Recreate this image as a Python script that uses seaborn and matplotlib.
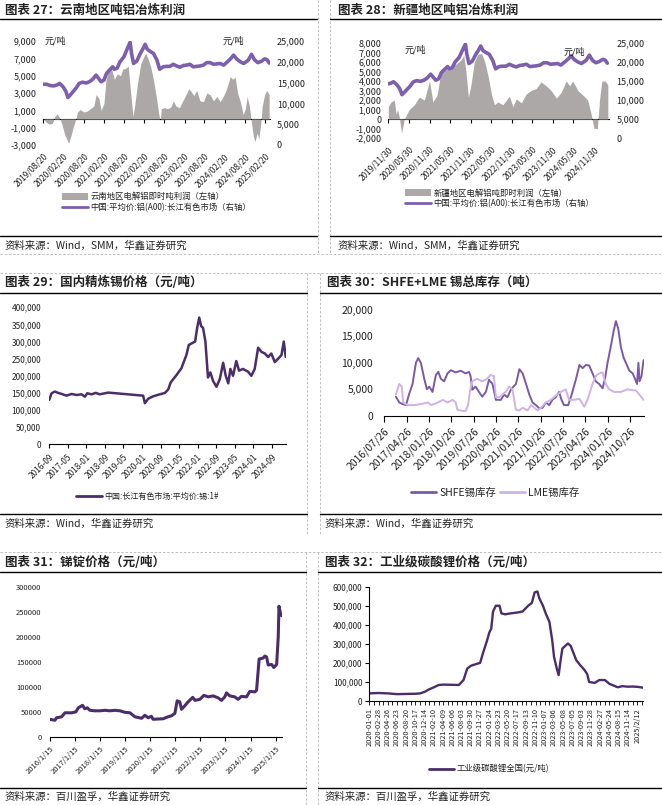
import numpy as np
import pandas as pd
import matplotlib
matplotlib.use("Agg")
import matplotlib.pyplot as plt
import matplotlib.dates as mdates
import matplotlib.ticker as mticker
from matplotlib.lines import Line2D
from matplotlib.patches import Patch
import seaborn as sns

# ------------------------------------------------------------------ data
# 中国:平均价:铝(A00):长江有色市场 (panels 27 / 28, right axis)
al_price_dates = ["2019-08-20", "2019-09-20", "2019-10-20", "2019-11-20", "2019-12-20", "2020-01-15",
                  "2020-02-15", "2020-03-10", "2020-03-30", "2020-04-20", "2020-05-15", "2020-06-10",
                  "2020-07-10", "2020-08-10", "2020-09-10", "2020-10-10", "2020-11-10", "2020-12-10",
                  "2021-01-05", "2021-01-25", "2021-02-20", "2021-03-15", "2021-04-10", "2021-05-10",
                  "2021-05-25", "2021-06-20", "2021-07-15", "2021-08-20", "2021-09-20", "2021-10-15",
                  "2021-10-28", "2021-11-15", "2021-12-15", "2022-01-15", "2022-02-10", "2022-02-28",
                  "2022-03-20", "2022-04-10", "2022-05-15", "2022-06-15", "2022-07-10", "2022-08-10",
                  "2022-09-10", "2022-10-10", "2022-11-10", "2022-12-10", "2023-01-10", "2023-02-10",
                  "2023-03-10", "2023-04-10", "2023-05-10", "2023-06-10", "2023-07-10", "2023-08-10",
                  "2023-09-10", "2023-10-10", "2023-11-10", "2023-12-10", "2024-01-10", "2024-02-10",
                  "2024-03-15", "2024-04-15", "2024-05-10", "2024-06-10", "2024-07-10", "2024-08-10",
                  "2024-09-20", "2024-10-20", "2024-11-15", "2024-12-15", "2025-01-15", "2025-02-15",
                  "2025-03-10", "2025-03-28"]
al_price_values = [14600, 14600, 14300, 14200, 14400, 14800,
                   14000, 13000, 11400, 12000, 12800, 13600,
                   14800, 15100, 14900, 15200, 15800, 16800,
                   15900, 15200, 15600, 17200, 18000, 18800,
                   18200, 18500, 20000, 21200, 23200, 24700,
                   22000, 19600, 20200, 22000, 23200, 24200,
                   23000, 22600, 22000, 20400, 18200, 18800,
                   18900, 18900, 19400, 19000, 18700, 19100,
                   19200, 19400, 18800, 18900, 19000, 19200,
                   19800, 19800, 19400, 19500, 19600, 19200,
                   20000, 20800, 21600, 20600, 20000, 19600,
                   20400, 21800, 20500, 19800, 20100, 20700,
                   20500, 19700]

# 云南地区电解铝即时吨利润 (panel 27, left axis)
yn_profit_dates = ["2019-08-20", "2019-09-10", "2019-10-10", "2019-11-10", "2019-12-05", "2019-12-25",
                   "2020-01-15", "2020-02-05", "2020-03-01", "2020-04-05", "2020-04-25", "2020-05-20",
                   "2020-06-10", "2020-06-25", "2020-07-20", "2020-08-20", "2020-09-20", "2020-10-20",
                   "2020-11-20", "2020-12-10", "2021-01-05", "2021-01-25", "2021-02-20", "2021-03-10",
                   "2021-04-05", "2021-04-25", "2021-05-25", "2021-06-20", "2021-07-20", "2021-08-10",
                   "2021-09-01", "2021-09-28", "2021-10-20", "2021-11-10", "2021-11-25", "2021-12-20",
                   "2022-01-20", "2022-02-20", "2022-03-05", "2022-03-25", "2022-04-20", "2022-05-15",
                   "2022-06-10", "2022-07-01", "2022-07-15", "2022-07-25", "2022-08-20", "2022-09-20",
                   "2022-10-20", "2022-11-10", "2022-12-05", "2023-01-05", "2023-02-01", "2023-03-01",
                   "2023-04-01", "2023-04-20", "2023-05-15", "2023-06-10", "2023-07-10", "2023-08-10",
                   "2023-09-10", "2023-10-10", "2023-11-10", "2023-12-10", "2024-01-10", "2024-02-10",
                   "2024-03-05", "2024-03-25", "2024-04-10", "2024-05-01", "2024-05-25", "2024-06-15",
                   "2024-07-10", "2024-08-05", "2024-08-25", "2024-09-10", "2024-09-30", "2024-10-20",
                   "2024-11-05", "2024-11-20", "2024-12-10", "2024-12-25", "2025-01-10", "2025-01-25",
                   "2025-02-15", "2025-03-05", "2025-03-28"]
yn_profit_values = [100, -300, -600, -500, 300, 600,
                    100, -600, -1800, -2800, -2000, -800,
                    0, 800, 1100, 800, 900, 1200,
                    1500, 2800, 2400, 1000, 1800, 4500,
                    5800, 6000, 4600, 5200, 5000, 5800,
                    5800, 6100, 3000, 300, 1500, 4000,
                    6400, 7300, 7600, 7000, 6000, 4500,
                    2500, 600, -200, 1200, 1300, 1200,
                    1400, 2100, 1500, 1300, 2000, 2700,
                    3500, 3200, 2700, 3300, 2100, 2000,
                    3000, 2800, 2100, 2600, 2000, 2700,
                    3400, 4200, 4900, 4600, 4800, 3000,
                    2000, 500, 1200, 2600, 1500, -500,
                    -2000, -2600, -1600, -2300, -600, 1500,
                    2800, 3300, 2800]

# 新疆地区电解铝吨即时利润 (panel 28, left axis)
xj_profit_dates = ["2019-11-30", "2019-12-25", "2020-01-22", "2020-02-08", "2020-02-20", "2020-03-05",
                   "2020-03-27", "2020-04-20", "2020-06-03", "2020-07-18", "2020-09-01", "2020-10-15",
                   "2020-11-30", "2020-12-30", "2021-02-05", "2021-03-12", "2021-04-25", "2021-06-10",
                   "2021-07-25", "2021-09-05", "2021-09-30", "2021-10-20", "2021-11-10", "2021-12-02",
                   "2022-01-02", "2022-02-02", "2022-03-08", "2022-04-05", "2022-05-05", "2022-06-05",
                   "2022-06-30", "2022-07-30", "2022-09-12", "2022-11-10", "2022-12-10", "2023-01-10",
                   "2023-02-25", "2023-04-05", "2023-05-20", "2023-07-05", "2023-08-18", "2023-10-02",
                   "2023-11-15", "2024-01-01", "2024-02-12", "2024-03-28", "2024-04-28", "2024-05-25",
                   "2024-07-10", "2024-08-25", "2024-10-05", "2024-11-05", "2024-11-30", "2024-12-30",
                   "2025-01-18", "2025-02-08", "2025-03-10", "2025-04-02"]
xj_profit_values = [1300, 1800, 2000, 500, 1000, 300,
                    -1500, 0, 1000, 1500, 2300, 2000,
                    4000, 1800, 2500, 5000, 5200, 5500,
                    5800, 6200, 6700, 5000, 2300, 3500,
                    6000, 6800, 6900, 6000, 4500, 2500,
                    1500, 1800, 1500, 2400, 1300, 2100,
                    1700, 2600, 3000, 3200, 3900, 3500,
                    3000, 2200, 2800, 4000, 3500, 4000,
                    3000, 2500, 2000, 500, -1000, -1000,
                    2000, 4000, 4000, 3600]

# 中国:长江有色市场:平均价:锡:1# (panel 29)
tin_dates = ["2016-09-01", "2016-10-01", "2016-11-13", "2016-12-28", "2017-02-10", "2017-04-15",
             "2017-06-20", "2017-08-25", "2017-10-28", "2017-12-12", "2018-01-12", "2018-03-08",
             "2018-05-04", "2018-06-25", "2018-09-01", "2018-10-13", "2020-01-16", "2020-02-07",
             "2020-03-22", "2020-05-25", "2020-08-22", "2020-10-28", "2020-12-10", "2021-01-10",
             "2021-02-13", "2021-03-28", "2021-06-01", "2021-08-06", "2021-09-06", "2021-10-25",
             "2021-11-28", "2021-12-25", "2022-01-21", "2022-02-15", "2022-03-12", "2022-04-12",
             "2022-05-16", "2022-06-16", "2022-07-22", "2022-09-04", "2022-10-18", "2022-12-01",
             "2023-01-04", "2023-02-06", "2023-03-06", "2023-04-10", "2023-05-22", "2023-06-28",
             "2023-08-18", "2023-10-24", "2023-12-06", "2024-01-19", "2024-03-04", "2024-04-16",
             "2024-06-01", "2024-07-13", "2024-08-25", "2024-10-09", "2024-11-22", "2025-01-04",
             "2025-02-04", "2025-03-01"]
tin_values = [130000, 149000, 154000, 150000, 147000, 142000,
              147000, 144000, 146000, 139000, 149000, 146000,
              150000, 146000, 149000, 151000, 142000, 120000,
              133000, 140000, 146000, 150000, 160000, 180000,
              190000, 202000, 222000, 261000, 290000, 296000,
              300000, 340000, 370000, 345000, 340000, 300000,
              195000, 210000, 185000, 168000, 190000, 238000,
              200000, 178000, 220000, 200000, 243000, 215000,
              220000, 212000, 200000, 220000, 282000, 270000,
              265000, 255000, 265000, 240000, 250000, 260000,
              300000, 255000]

# SHFE / LME 锡库存 (panel 30)
shfe_dates = ["2016-12-15", "2017-01-26", "2017-03-08", "2017-04-18", "2017-05-29", "2017-07-08",
              "2017-08-18", "2017-09-15", "2017-10-18", "2017-11-28", "2017-12-31", "2018-01-29",
              "2018-03-10", "2018-04-20", "2018-05-20", "2018-06-20", "2018-07-30", "2018-09-10",
              "2018-10-20", "2018-12-20", "2019-02-20", "2019-04-20", "2019-06-01", "2019-06-20",
              "2019-07-10", "2019-08-20", "2019-10-01", "2019-11-10", "2019-12-25", "2020-02-01",
              "2020-03-15", "2020-04-26", "2020-06-26", "2020-08-05", "2020-09-15", "2020-10-28",
              "2020-12-28", "2021-02-08", "2021-03-20", "2021-05-01", "2021-06-10", "2021-07-20",
              "2021-08-30", "2021-10-10", "2021-11-20", "2021-12-30", "2022-02-10", "2022-03-20",
              "2022-05-01", "2022-06-10", "2022-07-10", "2022-08-10", "2022-09-30", "2022-11-10",
              "2023-01-05", "2023-02-15", "2023-03-26", "2023-05-05", "2023-06-15", "2023-07-26",
              "2023-09-05", "2023-10-15", "2023-11-26", "2023-12-26", "2024-01-26", "2024-03-05",
              "2024-04-10", "2024-05-08", "2024-06-05", "2024-07-08", "2024-08-10", "2024-09-08",
              "2024-10-20", "2024-11-30", "2024-12-28", "2025-01-22", "2025-02-08", "2025-02-22",
              "2025-03-18", "2025-04-12"]
shfe_values = [3600, 2500, 2200, 2000, 4200, 6000,
               10000, 10900, 10000, 7000, 5000, 5500,
               4500, 7700, 8300, 7000, 6500, 8000,
               8600, 8200, 8500, 8000, 8300, 7500,
               4900, 5500, 4500, 3600, 4500, 6800,
               6000, 3000, 3000, 4000, 3500, 5000,
               6000, 8800, 8000, 6000, 4000, 2500,
               2000, 1400, 1500, 2500, 2000, 3000,
               3500, 4500, 3000, 2000, 2000, 3900,
               7000, 9600, 9000, 9600, 9500, 8000,
               6500, 6000, 5200, 7000, 10000, 13000,
               16000, 17900, 16500, 13000, 11000, 10000,
               8500, 8000, 7000, 6000, 10000, 6500,
               7500, 10500]
lme_dates = ["2016-12-15", "2017-01-26", "2017-02-25", "2017-03-15", "2017-05-05", "2017-07-26",
             "2017-10-18", "2018-01-10", "2018-02-20", "2018-05-15", "2018-07-15", "2018-09-10",
             "2018-11-10", "2018-12-20", "2019-01-10", "2019-03-15", "2019-04-20", "2019-05-20",
             "2019-06-15", "2019-07-10", "2019-09-10", "2019-11-10", "2020-01-10", "2020-02-20",
             "2020-04-01", "2020-04-26", "2020-06-05", "2020-07-15", "2020-08-25", "2020-10-05",
             "2020-11-15", "2020-12-28", "2021-02-08", "2021-03-20", "2021-05-20", "2021-07-01",
             "2021-08-10", "2021-09-20", "2021-10-30", "2021-12-30", "2022-03-01", "2022-05-01",
             "2022-07-01", "2022-09-01", "2022-10-10", "2022-12-10", "2023-02-15", "2023-04-15",
             "2023-05-25", "2023-07-26", "2023-09-05", "2023-10-15", "2023-11-26", "2024-01-05",
             "2024-02-15", "2024-04-15", "2024-07-08", "2024-09-28", "2024-11-30", "2025-01-08",
             "2025-02-20", "2025-04-12"]
lme_values = [4000, 6000, 5500, 2500, 2000, 2000,
              2200, 2500, 2000, 2500, 3000, 2500,
              3000, 2500, 1100, 900, 900, 2000,
              4900, 6500, 7000, 6500, 7000, 7700,
              7500, 3500, 3500, 4000, 4500, 5500,
              5000, 1100, 1000, 1500, 1000, 2000,
              1500, 1000, 1500, 2500, 3000, 3800,
              4500, 5000, 3000, 3000, 3200, 1700,
              3000, 6000, 7500, 8000, 8200, 6000,
              5000, 4500, 4500, 5000, 4800, 4800,
              4000, 3000]

# 锑锭价格 (panel 31)
sb_dates = ["2016-01-15", "2016-03-27", "2016-04-20", "2016-07-03", "2016-08-20", "2016-11-27",
            "2017-01-27", "2017-03-03", "2017-05-03", "2017-06-05", "2017-07-12", "2017-08-18",
            "2017-10-30", "2018-01-12", "2018-03-25", "2018-06-05", "2018-08-18", "2018-10-30",
            "2019-01-10", "2019-03-25", "2019-06-05", "2019-09-10", "2019-10-30", "2019-12-15",
            "2020-02-01", "2020-02-25", "2020-07-20", "2020-09-30", "2020-11-20", "2021-01-08",
            "2021-02-10", "2021-03-20", "2021-04-15", "2021-06-01", "2021-07-20", "2021-09-25",
            "2021-10-28", "2022-01-08", "2022-03-05", "2022-05-10", "2022-07-18", "2022-09-30",
            "2022-11-18", "2023-01-05", "2023-01-30", "2023-03-18", "2023-05-30", "2023-07-18",
            "2023-09-05", "2023-11-18", "2024-01-05", "2024-03-18", "2024-04-12", "2024-05-20",
            "2024-07-18", "2024-08-12", "2024-09-05", "2024-09-30", "2024-11-18", "2024-12-20",
            "2025-01-30", "2025-02-22", "2025-03-05", "2025-03-30", "2025-04-15"]
sb_values = [34800, 33000, 38000, 40000, 48000, 48000,
             50000, 58000, 63000, 56000, 58000, 53000,
             52000, 52000, 53000, 52000, 53000, 52000,
             49000, 48000, 40000, 37000, 43000, 38000,
             41000, 35000, 36000, 40000, 42000, 47000,
             72000, 70000, 55000, 62000, 70000, 79000,
             73000, 75000, 83000, 80000, 82000, 78000,
             73000, 80000, 88000, 82000, 80000, 75000,
             81000, 80000, 91000, 90000, 93000, 156000,
             158000, 162000, 160000, 144000, 145000, 139000,
             145000, 200000, 262000, 245000, 243000]

# 工业级碳酸锂全国 (panel 32, category axis: position counted in tick-label steps)
li_idx = [0, 1, 2, 2.5, 3, 4, 5, 5.5, 6, 6.5, 7, 7.5, 8, 9, 9.7, 10.2, 10.6, 11, 11.7, 12,
          12.3, 12.7, 13, 13.2, 13.4, 13.7, 14.1, 14.3, 14.7, 15.3, 16.1, 16.6, 17.2, 17.6, 17.9,
          18.2, 18.4, 18.8, 19.1, 19.5, 19.8, 20, 20.3, 20.5, 20.7, 20.9, 21.5, 21.8, 22.4, 22.8,
          23.3, 23.6, 23.8, 24.4, 24.9, 25.5, 26, 26.5, 26.9, 27.4, 28, 28.5, 29.1, 29.6]
li_values = [40000, 42000, 40000, 38000, 36000, 37000, 38000, 40000, 48000, 62000, 72000, 84000,
             86000, 85000, 84000, 110000, 170000, 185000, 196000, 200000,
             250000, 310000, 360000, 380000, 470000, 500000, 500000, 460000, 455000, 460000,
             465000, 470000, 500000, 515000, 570000,
             575000, 540000, 500000, 460000, 415000, 320000, 232000, 170000, 136000, 210000,
             275000, 302000, 290000, 215000, 190000,
             163000, 140000, 100000, 95000, 110000, 110000, 90000, 80000, 72000, 78000,
             75000, 76000, 74000, 70000]

# tick labels
p27_ticks = ["2019/08/20", "2020/02/20", "2020/08/20", "2021/02/20", "2021/08/20", "2022/02/20",
             "2022/08/20", "2023/02/20", "2023/08/20", "2024/02/20", "2024/08/20", "2025/02/20"]
p28_ticks = ["2019/11/30", "2020/05/30", "2020/11/30", "2021/05/30", "2021/11/30", "2022/05/30",
             "2022/11/30", "2023/05/30", "2023/11/30", "2024/05/30", "2024/11/30"]
p29_ticks = ["2016-09", "2017-05", "2018-01", "2018-09", "2019-05", "2020-01", "2020-09",
             "2021-05", "2022-01", "2022-09", "2023-05", "2024-01", "2024-09"]
p30_ticks = ["2016/07/26", "2017/04/26", "2018/01/26", "2018/10/26", "2019/07/26", "2020/04/26",
             "2021/01/26", "2021/10/26", "2022/07/26", "2023/04/26", "2024/01/26", "2024/10/26"]
p31_ticks = ["2016/1/15", "2017/1/15", "2018/1/15", "2019/1/15", "2020/1/15", "2021/1/15",
             "2022/1/15", "2023/1/15", "2024/1/15", "2025/1/15"]
p32_ticks = ["2020-01-01", "2020-02-28", "2020-04-26", "2020-06-23", "2020-08-20", "2020-10-17",
             "2020-12-14", "2021-02-10", "2021-04-09", "2021-06-06", "2021-08-03", "2021-09-30",
             "2021-11-27", "2022-01-24", "2022-03-23", "2022-05-20", "2022-07-17", "2022-09-13",
             "2022-11-10", "2023-01-07", "2023-03-06", "2023-05-08", "2023-07-05", "2023-09-03",
             "2023-11-28", "2024-02-27", "2024-05-24", "2024-08-15", "2024-11-14", "2025/2/12"]

# ------------------------------------------------------------------ style
sns.set_theme(style="white")
plt.rcParams["font.family"] = ["Noto Sans CJK SC", "DejaVu Sans"]
plt.rcParams["axes.unicode_minus"] = False

W, H = 662, 805
fig = plt.figure(figsize=(W / 100, H / 100), dpi=100)
fig.patch.set_facecolor("white")

PURPLE = "#7D5FAD"
DARKP = "#4A2D6A"
GREY_FILL = "#ACA8A8"
LAV = "#CFB2E8"
TXT = "#222222"


def add_ax(x0, y0, x1, y1):
    return fig.add_axes([x0 / W, 1 - y1 / H, (x1 - x0) / W, (y1 - y0) / H])


def fline(x0, y0, x1, y1, color="black", lw=1.0, ls="-"):
    fig.add_artist(Line2D([x0 / W, x1 / W], [1 - y0 / H, 1 - y1 / H], color=color, lw=lw,
                          ls=ls, transform=fig.transFigure))


def ftext(x, y, s, size, weight="normal", ha="left", color=TXT):
    fig.text(x / W, 1 - y / H, s, fontsize=size, fontweight=weight, ha=ha, va="center", color=color)


def dnum(lst, fmt=None):
    return mdates.date2num(pd.to_datetime(lst, format=fmt))


def hide_spines(ax, keep=()):
    for k, sp in ax.spines.items():
        sp.set_visible(k in keep)
        if k in keep:
            sp.set_color("black")
            sp.set_linewidth(0.8)


def place_legend(ax, handles, labels, x, y, size, **kw):
    leg = ax.legend(handles, labels, loc="center left", bbox_to_anchor=(x / W, 1 - y / H),
                    bbox_transform=fig.transFigure, frameon=False, fontsize=size,
                    borderpad=0, borderaxespad=0, **kw)
    for t in leg.get_texts():
        t.set_color(TXT)
    return leg


comma = mticker.StrMethodFormatter("{x:,.0f}")

# ------------------------------------------------------------------ frame lines
DASH = dict(color="#b5b5b5", lw=0.6, ls=(0, (3, 2)))
# row 1
fline(317.7, 0, 317.7, 254, **DASH)
fline(330, 0, 330, 254, **DASH)
fline(0, 254, W, 254, **DASH)
fline(0, 19.5, 317, 19.5)
fline(330, 19.5, W, 19.5)
fline(0, 236.5, 317, 236.5)
fline(330, 236.5, W, 236.5)
# row 2
fline(0, 272.7, W, 272.7, **DASH)
fline(307, 272.7, 307, 535, **DASH)
fline(320, 272.7, 320, 535, **DASH)
fline(0, 292.7, 307, 292.7)
fline(320, 292.7, W, 292.7)
fline(0, 514, 307, 514)
fline(320, 514, W, 514)
# row 3
fline(0, 552, W, 552, **DASH)
fline(306, 552, 306, H, **DASH)
fline(318, 552, 318, H, **DASH)
fline(0, 572, 306, 572)
fline(318, 572, W, 572)
fline(0, 788, 306, 788)
fline(318, 788, W, 788)

# titles & sources
ftext(5, 10, "图表 27：云南地区吨铝冶炼利润", 9, "bold")
ftext(338, 10, "图表 28：新疆地区吨铝冶炼利润", 9, "bold")
ftext(5, 246, "资料来源：Wind，SMM，华鑫证券研究", 7.5)
ftext(338, 246, "资料来源：Wind，SMM，华鑫证券研究", 7.5)
ftext(5, 282, "图表 29：国内精炼锡价格（元/吨）", 9, "bold")
ftext(327, 282, "图表 30：SHFE+LME 锡总库存（吨）", 9, "bold")
ftext(5, 524, "资料来源：Wind，华鑫证券研究", 7.5)
ftext(325, 524, "资料来源：Wind，华鑫证券研究", 7.5)
ftext(5, 562, "图表 31：锑锭价格（元/吨）", 9, "bold")
ftext(325, 562, "图表 32：工业级碳酸锂价格（元/吨）", 9, "bold")
ftext(5, 797, "资料来源：百川盈孚，华鑫证券研究", 7.5)
ftext(325, 797, "资料来源：百川盈孚，华鑫证券研究", 7.5)


# ------------------------------------------------------------------ panels 27 / 28
def profit_panel(rect, p_dates, p_vals, xlim, ylim, yticks, ticks, legend_pos, legend_label,
                 unit_left, unit_right):
    ax = add_ax(*rect)
    x_p = dnum(p_dates)
    ax.fill_between(x_p, 0, p_vals, color=GREY_FILL, lw=0)
    ax.set_xlim(*[mdates.date2num(pd.Timestamp(d)) for d in xlim])
    ax.set_ylim(*ylim)
    ax.set_yticks(yticks)
    ax.yaxis.set_major_formatter(comma)
    tnum = dnum(ticks, "%Y/%m/%d")
    ax.set_xticks(tnum)
    ax.set_xticklabels(ticks, rotation=45, ha="right", rotation_mode="anchor", fontsize=6, color=TXT)
    ax.tick_params(axis="x", length=0, pad=5)
    ax.tick_params(axis="y", length=0, pad=5, labelsize=6.5, colors=TXT)
    hide_spines(ax)
    zero_frac = -ylim[0] / (ylim[1] - ylim[0])
    sec = ax.secondary_xaxis(zero_frac)
    sec.set_xticks(tnum)
    sec.tick_params(axis="x", bottom=True, top=False, labelbottom=False, labeltop=False,
                    direction="out", length=3, width=0.8, color="black")
    for k, sp in sec.spines.items():
        sp.set_visible(k == "bottom")
    sec.spines["bottom"].set_color("black")
    sec.spines["bottom"].set_linewidth(0.8)

    ax2 = ax.twinx()
    xd = pd.to_datetime(al_price_dates)
    mask = xd >= pd.Timestamp(xlim[0]) - pd.Timedelta(days=15)
    x_al = mdates.date2num(xd[mask])
    y_al = np.array(al_price_values)[mask]
    sns.lineplot(x=x_al, y=y_al, ax=ax2, color=PURPLE, linewidth=2.6)
    ax2.set_ylim(0, 25000)
    ax2.set_yticks(np.arange(0, 25001, 5000))
    ax2.yaxis.set_major_formatter(comma)
    ax2.tick_params(axis="y", length=0, pad=5, labelsize=6.5, colors=TXT)
    hide_spines(ax2)
    ax2.set_ylabel("")

    ftext(unit_left[0], unit_left[1], "元/吨", 6.5)
    ftext(unit_right[0], unit_right[1], "元/吨", 6.5)

    handles = [Patch(facecolor=GREY_FILL, edgecolor="none"), Line2D([], [], color=PURPLE, lw=2)]
    labels = [legend_label, "中国:平均价:铝(A00):长江有色市场（右轴）"]
    place_legend(ax2, handles, labels, legend_pos[0], legend_pos[1], 6,
                 handlelength=3.1, handleheight=1.0, handletextpad=0.3, labelspacing=0.2)
    return ax, ax2


profit_panel((43.3, 41, 270, 145), yn_profit_dates, yn_profit_values,
             ("2019-08-20", "2025-04-05"), (-3000, 9000), np.arange(-3000, 9001, 2000),
             p27_ticks, (62, 202), "云南地区电解铝即时吨利润（左轴）", (45, 41), (223, 41))
profit_panel((388.3, 43, 609.3, 138), xj_profit_dates, xj_profit_values,
             ("2019-11-30", "2025-04-15"), (-2000, 8000), np.arange(-2000, 8001, 1000),
             p28_ticks, (405, 198.5), "新疆地区电解铝吨即时利润（左轴）", (405, 50), (564, 52))

# ------------------------------------------------------------------ panel 29
ax = add_ax(49.3, 307.3, 286, 444.3)
sns.lineplot(x=dnum(tin_dates), y=tin_values, ax=ax, color=DARKP, linewidth=1.8)
ax.set_xlim(mdates.date2num(pd.Timestamp("2016-09-01")), mdates.date2num(pd.Timestamp("2025-03-05")))
ax.set_ylim(0, 400000)
ax.set_yticks(np.arange(0, 400001, 50000))
ax.yaxis.set_major_formatter(comma)
t29 = dnum(p29_ticks, "%Y-%m")
ax.set_xticks(t29)
ax.set_xticklabels(p29_ticks, rotation=45, ha="right", rotation_mode="anchor", fontsize=6, color=TXT)
ax.tick_params(axis="x", bottom=True, length=3, width=0.8, color="black", pad=3)
ax.tick_params(axis="y", length=0, pad=6, labelsize=6, colors=TXT)
hide_spines(ax, keep=("bottom",))
place_legend(ax, [Line2D([], [], color=DARKP, lw=2)], ["中国:长江有色市场:平均价:锡:1#"], 76, 496, 5.8,
             handlelength=3.2, handletextpad=0.3)

# ------------------------------------------------------------------ panel 30
ax = add_ax(384.3, 310, 643.7, 415.7)
sns.lineplot(x=dnum(shfe_dates), y=shfe_values, ax=ax, color="#7A5AA6", linewidth=1.4)
sns.lineplot(x=dnum(lme_dates), y=lme_values, ax=ax, color=LAV, linewidth=1.4)
ax.set_xlim(mdates.date2num(pd.Timestamp("2016-07-26")), mdates.date2num(pd.Timestamp("2025-04-14")))
ax.set_ylim(0, 20000)
ax.set_yticks(np.arange(0, 20001, 5000))
ax.yaxis.set_major_formatter(comma)
t30 = dnum(p30_ticks, "%Y/%m/%d")
ax.set_xticks(t30)
ax.set_xticklabels(p30_ticks, rotation=45, ha="right", rotation_mode="anchor", fontsize=7.5, color=TXT)
ax.tick_params(axis="x", bottom=True, length=4, width=0.8, color="black", pad=3)
ax.tick_params(axis="y", length=0, pad=8, labelsize=7.5, colors=TXT)
hide_spines(ax, keep=("bottom",))
place_legend(ax, [Line2D([], [], color="#7A5AA6", lw=2), Line2D([], [], color=LAV, lw=2)],
             ["SHFE锡库存", "LME锡库存"], 411, 492.7, 7.5, ncol=2,
             handlelength=2.4, handletextpad=0.3, columnspacing=0.4)

# ------------------------------------------------------------------ panel 31
ax = add_ax(50, 587.3, 282, 736.7)
sns.lineplot(x=dnum(sb_dates), y=sb_values, ax=ax, color=DARKP, linewidth=2.2)
ax.set_xlim(mdates.date2num(pd.Timestamp("2016-01-15")), mdates.date2num(pd.Timestamp("2025-04-18")))
ax.set_ylim(0, 300000)
ax.set_yticks(np.arange(0, 300001, 50000))
ax.yaxis.set_major_formatter(mticker.StrMethodFormatter("{x:.0f}"))
t31 = dnum(p31_ticks, "%Y/%m/%d")
ax.set_xticks(t31)
ax.set_xticklabels(p31_ticks, rotation=45, ha="right", rotation_mode="anchor", fontsize=5.5, color=TXT)
ax.tick_params(axis="x", bottom=True, length=3, width=0.8, color="black", pad=3)
ax.tick_params(axis="y", length=0, pad=6, labelsize=5.5, colors=TXT)
hide_spines(ax, keep=("bottom",))

# ------------------------------------------------------------------ panel 32
ax = add_ax(369.3, 586.7, 642.7, 701)
sns.lineplot(x=li_idx, y=li_values, ax=ax, color=DARKP, linewidth=1.7)
ax.set_xlim(0, 29.6)
ax.set_ylim(0, 600000)
ax.set_yticks(np.arange(0, 600001, 100000))
ax.yaxis.set_major_formatter(comma)
ax.set_xticks(np.arange(len(p32_ticks)))
ax.set_xticklabels(p32_ticks, rotation=90, ha="center", va="top", fontsize=5.3, color=TXT)
ax.xaxis.set_minor_locator(mticker.MultipleLocator(0.5))
ax.tick_params(axis="x", which="both", bottom=True, length=3, width=0.6, color="black", pad=2)
ax.tick_params(axis="y", left=True, length=3, width=0.8, color="black", pad=2, labelsize=6, colors=TXT)
hide_spines(ax, keep=("bottom", "left"))
place_legend(ax, [Line2D([], [], color=DARKP, lw=2)], ["工业级碳酸锂全国(元/吨)"], 429, 769, 6,
             handlelength=3.0, handletextpad=0.3)

fig.savefig("out.png", dpi=100, facecolor="white")
